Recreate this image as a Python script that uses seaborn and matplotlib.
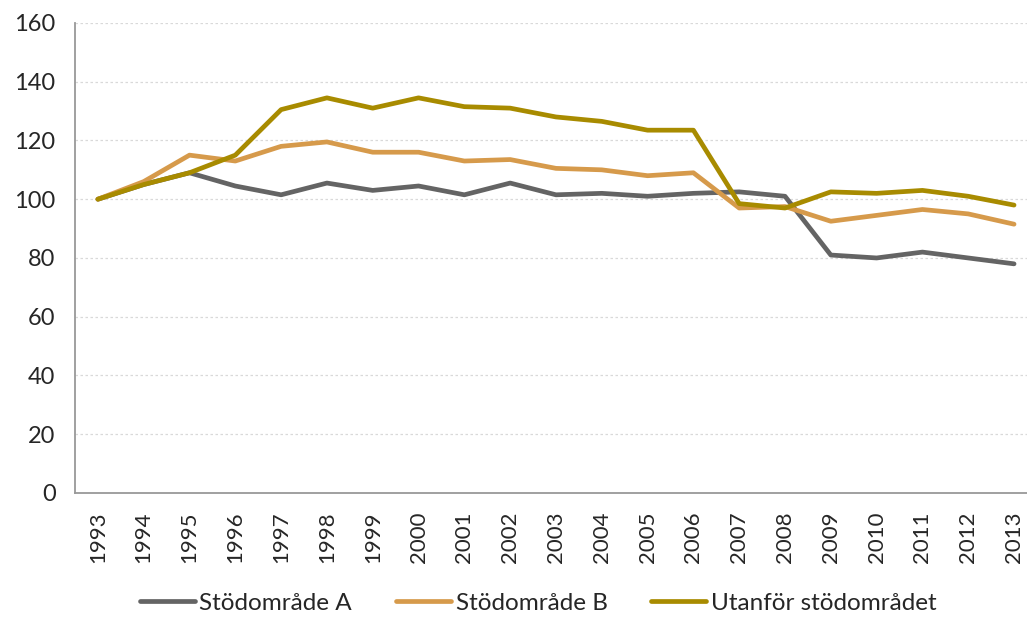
import pandas as pd
import matplotlib
matplotlib.use("Agg")
import matplotlib.pyplot as plt
import seaborn as sns


# ======================================
# DATA
# ======================================

years = list(range(1993, 2014))

series_names = ["Stödområde A", "Stödområde B", "Utanför stödområdet"]

stod_a = [100, 105, 109, 104.5, 101.5, 105.5, 103, 104.5, 101.5, 105.5,
          101.5, 102, 101, 102, 102.5, 101, 81, 80, 82, 80, 78]

stod_b = [100, 106, 115, 113, 118, 119.5, 116, 116, 113, 113.5,
          110.5, 110, 108, 109, 97, 97.5, 92.5, 94.5, 96.5, 95, 91.5]

utanfor = [100, 105, 109, 115, 130.5, 134.5, 131, 134.5, 131.5, 131,
           128, 126.5, 123.5, 123.5, 98.5, 97, 102.5, 102, 103, 101, 98]

colors = ["#646464", "#D69A4B", "#A88B00"]


# ======================================
# BUILD DATAFRAME
# ======================================

rows = []

for name, values in zip(series_names, [stod_a, stod_b, utanfor]):

    for year, value in zip(years, values):

        rows.append({"year": year, "value": value, "series": name})

df = pd.DataFrame(rows)


# ======================================
# PLOT
# ======================================

sns.set_style("white")
plt.rcParams["font.family"] = ["Lato", "DejaVu Sans"]

FS = 17

fig = plt.figure(figsize=(10.27, 6.17), dpi=100)
ax = fig.add_axes([0.073, 0.201, 0.9367, 0.7618])

sns.lineplot(
    data=df,
    x="year",
    y="value",
    hue="series",
    palette=colors,
    linewidth=3.4,
    ax=ax,
    legend=False
)

ax.set_xlim(1992.5, 2013.5)
ax.set_ylim(0, 160)
ax.set_yticks(range(0, 161, 20))

# year labels centred, tick marks between categories
ax.set_xticks(years)
ax.set_xticklabels([str(y) for y in years], rotation=90, fontsize=16)
ax.set_xticks([y - 0.5 for y in years] + [2013.5], minor=True)
ax.tick_params(axis="x", which="major", length=0, pad=13)
ax.tick_params(axis="x", which="minor", length=8, width=1.3, color="#999999")
ax.tick_params(axis="y", length=8, width=1.3, color="#999999", labelsize=FS, pad=6)

ax.grid(axis="y", color="#D9D9D9", linestyle=(0, (2, 2)), linewidth=0.9)
ax.set_axisbelow(True)

for side in ["top", "right"]:
    ax.spines[side].set_visible(False)

for side in ["left", "bottom"]:
    ax.spines[side].set_color("#999999")
    ax.spines[side].set_linewidth(1.3)

ax.set_xlabel("")
ax.set_ylabel("")

handles = [
    plt.Line2D([0], [0], color=c, linewidth=3.4) for c in colors
]

fig.legend(
    handles,
    series_names,
    loc="center",
    bbox_to_anchor=(0.524, 0.022),
    ncol=3,
    frameon=False,
    fontsize=17.5,
    handlelength=2.26,
    handletextpad=0.2,
    columnspacing=1.8
)

fig.savefig("out.png", dpi=100)
